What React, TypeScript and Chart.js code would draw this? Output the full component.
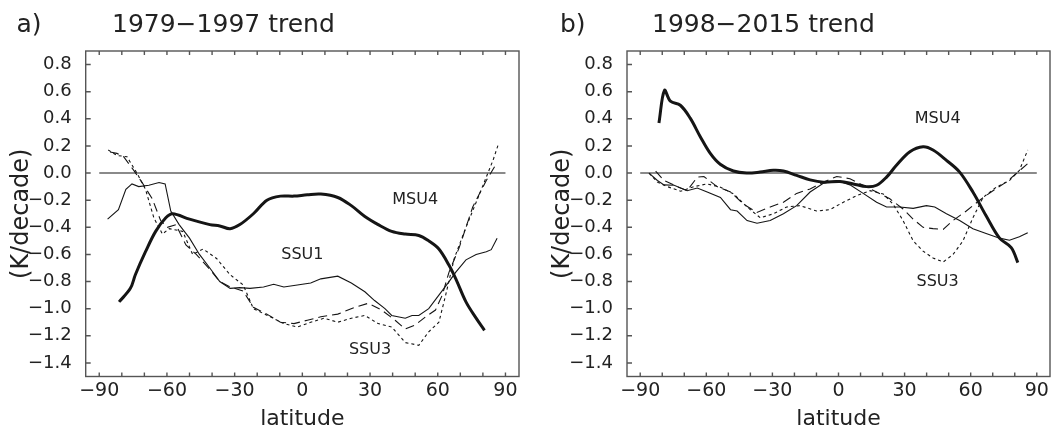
import React, { useEffect, useRef } from 'react';
import { Chart, registerables } from 'chart.js';

Chart.register(...registerables);

const FONT = '"DejaVu Sans", "Liberation Sans", sans-serif';

// ---------- axes ----------
const X_TICKS = [-90, -80, -70, -60, -50, -40, -30, -20, -10, 0, 10, 20, 30, 40, 50, 60, 70, 80, 90];
const X_LABELED = [-90, -60, -30, 0, 30, 60, 90];
const Y_TICKS = [0.8, 0.6, 0.4, 0.2, 0.0, -0.2, -0.4, -0.6, -0.8, -1.0, -1.2, -1.4];
const ZERO_LAT = [-90, 90];
const ZERO_VAL = [0, 0];

// ---------- panel a: 1979-1997 ----------
const aMsu4Lat = [-81.2, -76.2, -74, -69.5, -65, -60.5, -57.5, -50, -41, -36.6, -32, -27.7, -21.7, -15.7, -9.7, -3.7, 2.2, 8.2, 15.7, 21.7, 27.7, 33.6, 39.6, 45.6, 51.6, 56, 60.5, 65, 68, 72.5, 77, 80.7];
const aMsu4Val = [-0.95, -0.85, -0.75, -0.58, -0.43, -0.33, -0.30, -0.34, -0.38, -0.39, -0.41, -0.38, -0.30, -0.20, -0.17, -0.17, -0.16, -0.155, -0.18, -0.24, -0.32, -0.38, -0.43, -0.45, -0.46, -0.50, -0.56, -0.68, -0.78, -0.95, -1.07, -1.16];

const aSsu1Lat = [-86.3, -81.5, -78.2, -75.5, -72.5, -68, -63.5, -60.8, -58.3, -54.6, -50, -45.6, -41, -36.6, -32, -27.7, -23.2, -17.2, -12.7, -8.2, -2.2, 3.7, 8.2, 15.7, 21.7, 27.7, 32, 36.6, 39.6, 45.6, 48.6, 51.6, 56, 60.5, 65, 68, 72.5, 77, 81.5, 83.7, 86.3];
const aSsu1Val = [-0.34, -0.27, -0.12, -0.08, -0.10, -0.09, -0.07, -0.08, -0.28, -0.38, -0.48, -0.60, -0.70, -0.80, -0.85, -0.845, -0.85, -0.84, -0.82, -0.84, -0.825, -0.81, -0.78, -0.76, -0.81, -0.875, -0.94, -1.00, -1.05, -1.07, -1.05, -1.05, -1.00, -0.90, -0.80, -0.73, -0.64, -0.60, -0.58, -0.565, -0.48];

const aSsu2Lat = [-85.2, -82.2, -79.2, -74.7, -71, -66.5, -62.8, -59.8, -56, -51.6, -47, -41, -36.6, -32, -26.2, -21.7, -15.7, -9.7, -3.7, 2.2, 8.2, 15.7, 23.2, 29.2, 35.1, 41.1, 45.6, 50, 54.6, 59, 62, 65, 69.5, 75.5, 81.5, 86];
const aSsu2Val = [0.155, 0.145, 0.12, 0.02, -0.07, -0.19, -0.35, -0.40, -0.38, -0.53, -0.60, -0.71, -0.80, -0.84, -0.87, -0.99, -1.04, -1.10, -1.11, -1.085, -1.06, -1.04, -0.99, -0.96, -1.01, -1.085, -1.15, -1.12, -1.06, -1.01, -0.90, -0.73, -0.55, -0.25, -0.055, 0.07];

const aSsu3Lat = [-86, -82.2, -77.7, -73.3, -69.5, -65.8, -62, -59, -53, -48.6, -44, -38, -32, -26.2, -21.7, -14.2, -8.2, -2.2, 3.7, 9.7, 15.7, 21.7, 27.7, 33.6, 39.6, 45.6, 51.6, 56, 60.5, 63.5, 67.3, 72.5, 78.5, 84.5, 86.7];
const aSsu3Val = [0.17, 0.13, 0.12, 0.0, -0.12, -0.33, -0.45, -0.41, -0.43, -0.60, -0.56, -0.63, -0.75, -0.825, -1.00, -1.06, -1.11, -1.135, -1.10, -1.07, -1.10, -1.07, -1.05, -1.11, -1.135, -1.25, -1.27, -1.17, -1.10, -0.90, -0.63, -0.40, -0.155, 0.095, 0.205];

// ---------- panel b: 1998-2015 ----------
const bMsu4Lat = [-81.5, -79, -76.3, -71.8, -67.3, -62.8, -58.2, -53.7, -47.7, -41.7, -35.6, -29.6, -25, -19, -12.9, -6.9, 0.7, 6.7, 12.7, 17.3, 21.8, 26.3, 32.4, 38.4, 42.9, 49, 55, 61, 67, 73.1, 78.4, 81.4];
const bMsu4Val = [0.37, 0.61, 0.53, 0.50, 0.405, 0.27, 0.145, 0.065, 0.015, 0.0, 0.007, 0.02, 0.015, -0.017, -0.05, -0.067, -0.062, -0.08, -0.10, -0.09, -0.03, 0.057, 0.157, 0.194, 0.17, 0.094, 0.007, -0.14, -0.315, -0.48, -0.55, -0.66];

const bSsu1Lat = [-86, -82.2, -79.2, -74.6, -68.7, -64.1, -59.6, -53.6, -49, -46, -41.5, -37, -31, -25, -19, -12.9, -6.9, -0.8, 5.2, 11.2, 17.3, 21.8, 27.8, 33.9, 39.9, 43.7, 49, 55, 61, 67, 73.1, 77.6, 82.1, 85.9];
const bSsu1Val = [0.0, -0.055, -0.087, -0.09, -0.13, -0.11, -0.14, -0.18, -0.27, -0.28, -0.35, -0.37, -0.35, -0.30, -0.24, -0.14, -0.075, -0.055, -0.087, -0.15, -0.215, -0.25, -0.25, -0.26, -0.24, -0.25, -0.30, -0.35, -0.41, -0.445, -0.48, -0.495, -0.47, -0.44];

const bSsu2Lat = [-83, -79.2, -73.2, -68.7, -64.1, -61.1, -55.1, -49, -43, -37, -31, -25, -19, -12.9, -6.9, -0.8, 5.2, 11.2, 17.3, 23.3, 29.3, 33.9, 38.4, 42.9, 47.5, 52, 58, 64.1, 70.1, 76.1, 80.6, 85.9];
const bSsu2Val = [0.015, -0.055, -0.10, -0.13, -0.03, -0.025, -0.10, -0.14, -0.23, -0.29, -0.25, -0.215, -0.15, -0.117, -0.067, -0.025, -0.042, -0.09, -0.14, -0.19, -0.265, -0.34, -0.40, -0.41, -0.415, -0.35, -0.28, -0.20, -0.13, -0.067, -0.005, 0.07];

const bSsu3Lat = [-86, -82.2, -77.7, -71.7, -65.6, -59.6, -53.6, -47.6, -41.5, -35.5, -29.5, -23.5, -17.4, -9.9, -3.9, 2.2, 8.2, 14.3, 20.3, 24.8, 29.3, 33.9, 38.4, 42.9, 47.5, 52, 56.5, 61, 65.6, 71.6, 77.6, 82.1, 85.9];
const bSsu3Val = [0.0, -0.067, -0.10, -0.134, -0.10, -0.08, -0.104, -0.154, -0.25, -0.33, -0.30, -0.25, -0.24, -0.28, -0.27, -0.215, -0.167, -0.13, -0.154, -0.23, -0.35, -0.50, -0.576, -0.626, -0.656, -0.60, -0.50, -0.33, -0.18, -0.104, -0.055, 0.02, 0.17];

// ---------- in-plot labels ----------
const aLabelText = ['MSU4', 'SSU1', 'SSU3'];
const aLabelLat = [50, 0, 30];
const aLabelVal = [-0.2, -0.6, -1.3];
const bLabelText = ['MSU4', 'SSU3'];
const bLabelLat = [45, 45];
const bLabelVal = [0.4, -0.8];

const fmt = (v: number, d: number) => {
  const s = Math.abs(v).toFixed(d);
  return (v < -1e-9 ? '\u2212' : '') + s;
};
const toPts = (lat: number[], val: number[]) => lat.map((x, i) => ({ x, y: val[i] }));

const decor = {
  id: 'decor',
  afterDraw(chart: any, _args: any, opts: any) {
    const { ctx, chartArea: ca, scales } = chart;
    const xs = scales.x;
    const ys = scales.y;
    ctx.save();
    ctx.strokeStyle = '#555';
    ctx.lineWidth = 1.4;
    ctx.setLineDash([]);
    ctx.strokeRect(ca.left, ca.top, ca.right - ca.left, ca.bottom - ca.top);
    ctx.beginPath();
    xs.ticks.forEach((t: any) => {
      const p = xs.getPixelForValue(t.value);
      ctx.moveTo(p, ca.bottom);
      ctx.lineTo(p, ca.bottom - 4);
      ctx.moveTo(p, ca.top);
      ctx.lineTo(p, ca.top + 4);
    });
    ys.ticks.forEach((t: any) => {
      const p = ys.getPixelForValue(t.value);
      ctx.moveTo(ca.left, p);
      ctx.lineTo(ca.left + 5, p);
    });
    ctx.stroke();

    ctx.fillStyle = '#222';
    ctx.font = `16px ${FONT}`;
    ctx.textAlign = 'center';
    ctx.textBaseline = 'middle';
    opts.labelText.forEach((t: string, i: number) => {
      ctx.fillText(t, xs.getPixelForValue(opts.labelLat[i]), ys.getPixelForValue(opts.labelVal[i]));
    });

    ctx.font = `25px ${FONT}`;
    ctx.textAlign = 'left';
    ctx.textBaseline = 'alphabetic';
    ctx.fillText(opts.tag, opts.tagX, 32);
    ctx.fillText(opts.title, opts.titleX, 32);
    ctx.restore();
  },
};

type PanelProps = {
  series: { lat: number[]; val: number[]; width: number; dash: number[] }[];
  yWidth: number;
  padRight: number;
  yTitlePad: number;
  tag: string;
  tagX: number;
  title: string;
  titleX: number;
  labelText: string[];
  labelLat: number[];
  labelVal: number[];
};

function Panel(p: PanelProps) {
  const ref = useRef<HTMLCanvasElement>(null);
  useEffect(() => {
    if (!ref.current) return;
    const datasets: any[] = p.series.map((s, i) => ({
      data: toPts(s.lat, s.val),
      borderColor: '#151515',
      borderWidth: s.width,
      borderDash: s.dash,
      pointRadius: 0,
      tension: s.width > 2 ? 0.35 : 0,
      fill: false,
      order: i,
    }));
    datasets.push({
      data: toPts(ZERO_LAT, ZERO_VAL),
      borderColor: '#8a8a8a',
      borderWidth: 2,
      pointRadius: 0,
      fill: false,
      order: 99,
    });
    const chart = new Chart(ref.current, {
      type: 'line',
      data: { datasets },
      plugins: [decor as any],
      options: {
        animation: false,
        responsive: false,
        devicePixelRatio: 1,
        layout: { padding: { top: 51, right: p.padRight, left: 0, bottom: 0 } },
        plugins: {
          legend: { display: false },
          tooltip: { enabled: false },
          decor: {
            tag: p.tag,
            tagX: p.tagX,
            title: p.title,
            titleX: p.titleX,
            labelText: p.labelText,
            labelLat: p.labelLat,
            labelVal: p.labelVal,
          },
        } as any,
        scales: {
          x: {
            type: 'linear',
            min: -96,
            max: 96,
            grid: { display: false, drawTicks: false },
            border: { display: false },
            afterBuildTicks: (s: any) => {
              s.ticks = X_TICKS.map((v) => ({ value: v }));
            },
            afterFit: (s: any) => {
              s.height = 52.5;
            },
            ticks: {
              autoSkip: false,
              maxRotation: 0,
              padding: 3,
              color: '#222',
              font: { family: FONT, size: 19 },
              callback: (v: any) => (X_LABELED.includes(Number(v)) ? fmt(Number(v), 0) : ''),
            },
            title: {
              display: true,
              text: 'latitude',
              color: '#222',
              font: { family: FONT, size: 22, lineHeight: 0.8 },
              padding: { top: 0, bottom: 1 },
            },
          },
          y: {
            type: 'linear',
            min: -1.5,
            max: 0.9,
            grid: { display: false, drawTicks: false },
            border: { display: false },
            afterBuildTicks: (s: any) => {
              s.ticks = Y_TICKS.map((v) => ({ value: v }));
            },
            afterFit: (s: any) => {
              s.width = p.yWidth;
            },
            ticks: {
              autoSkip: false,
              padding: 14,
              color: '#222',
              font: { family: FONT, size: 18 },
              callback: (v: any) => fmt(Number(v), 1),
            },
            title: {
              display: true,
              text: '(K/decade)',
              color: '#222',
              font: { family: FONT, size: 24, lineHeight: 1.2 },
              padding: { top: p.yTitlePad, bottom: 0 },
            },
          },
        },
      },
    });
    return () => chart.destroy();
  }, []);
  return <canvas ref={ref} width={532} height={429} style={{ display: 'block', width: 532, height: 429 }} />;
}

export default function App() {
  const aSeries = [
    { lat: aMsu4Lat, val: aMsu4Val, width: 3, dash: [] },
    { lat: aSsu1Lat, val: aSsu1Val, width: 1.1, dash: [] },
    { lat: aSsu2Lat, val: aSsu2Val, width: 1.1, dash: [9, 5] },
    { lat: aSsu3Lat, val: aSsu3Val, width: 1.1, dash: [3, 3] },
  ];
  const bSeries = [
    { lat: bMsu4Lat, val: bMsu4Val, width: 3, dash: [] },
    { lat: bSsu1Lat, val: bSsu1Val, width: 1.1, dash: [] },
    { lat: bSsu2Lat, val: bSsu2Val, width: 1.1, dash: [9, 5] },
    { lat: bSsu3Lat, val: bSsu3Val, width: 1.1, dash: [3, 3] },
  ];
  return (
    <div style={{ position: 'absolute', left: 0, top: 0, width: 1064, height: 429, background: '#fff' }}>
      <div style={{ position: 'absolute', left: 0, top: 0 }}>
        <Panel
          series={aSeries}
          yWidth={85.7}
          padRight={13}
          yTitlePad={7}
          tag="a)"
          tagX={16.5}
          title={'1979\u22121997 trend'}
          titleX={112}
          labelText={aLabelText}
          labelLat={aLabelLat}
          labelVal={aLabelVal}
        />
      </div>
      <div style={{ position: 'absolute', left: 532, top: 0 }}>
        <Panel
          series={bSeries}
          yWidth={95}
          padRight={14}
          yTitlePad={16}
          tag="b)"
          tagX={28}
          title={'1998\u22122015 trend'}
          titleX={120}
          labelText={bLabelText}
          labelLat={bLabelLat}
          labelVal={bLabelVal}
        />
      </div>
    </div>
  );
}
